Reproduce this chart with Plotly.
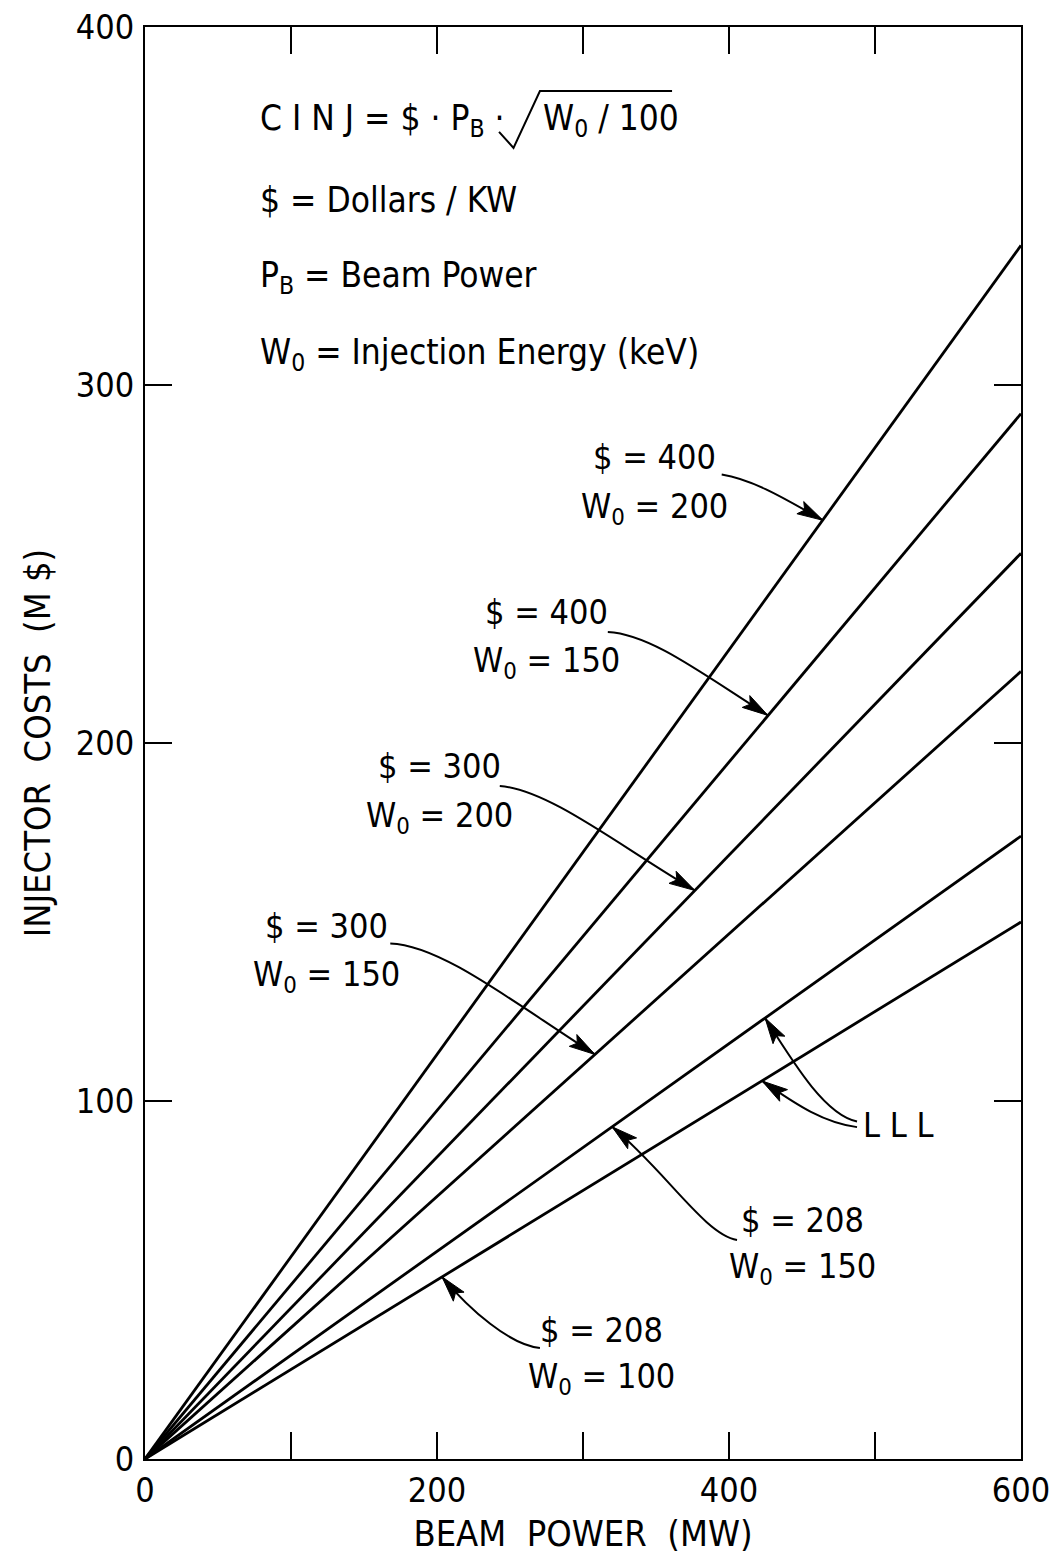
import plotly.graph_objects as go

# ---- data ----
beam_power = [0, 600]                      # MW
series_names = ["$=400, W0=200", "$=400, W0=150", "$=300, W0=200",
                "$=300, W0=150", "$=208, W0=150 (LLL)", "$=208, W0=100 (LLL)"]
cost_at_600 = [339, 292, 253, 220, 174, 150]   # M$ at 600 MW (lines start at 0)

x_ticks = [0, 100, 200, 300, 400, 500, 600]
x_tick_text = ["0", "", "200", "", "400", "", "600"]
y_ticks = [0, 100, 200, 300, 400]
y_tick_text = ["0", "100", "200", "300", "400"]

FONT = "DejaVu Sans Condensed, Liberation Sans Narrow, DejaVu Sans, sans-serif"

fig = go.Figure()
for name, end in zip(series_names, cost_at_600):
    fig.add_trace(go.Scatter(x=beam_power, y=[0, end], mode="lines", name=name,
                             line=dict(color="black", width=2.8), showlegend=False))

# ---- labels with curved arrows (data coordinates) ----
labels = [
    # (line1, line2, center x, y1, y2, tail, c1, c2, head)
    ("$ = 400", "W<sub>0</sub> = 200", 349, 280, 266.5, (395, 275), (418, 273.5), (442, 267.3), (464.4, 262.2)),
    ("$ = 400", "W<sub>0</sub> = 150", 275, 236.6, 223.5, (317, 231), (346, 230.4), (380, 219.8), (426.7, 207.7)),
    ("$ = 300", "W<sub>0</sub> = 200", 202, 193.6, 180.4, (243, 188), (277, 186.9), (325, 171.2), (376.7, 158.8)),
    ("$ = 300", "W<sub>0</sub> = 150", 124, 148.9, 136.0, (168, 144), (202, 143.6), (250, 128.2), (308.2, 113.0)),
    ("$ = 208", "W<sub>0</sub> = 150", 450, 66.8, 54.2, (405.5, 61.2), (383.6, 62.6), (356, 80.7), (319.9, 92.8)),
    ("$ = 208", "W<sub>0</sub> = 100", 313, 36.0, 23.7, (270.5, 31), (250, 31.8), (222.6, 41.6), (203.4, 50.9)),
]
lll_arrows = [
    ((487.7, 92.7), (462, 94.1), (442, 100.3), (422.6, 105.6)),
    ((487.7, 94.3), (466, 96.1), (445, 110.1), (424.7, 123.2)),
]

XS, YS = 876 / 600, 1432 / 400   # px per data unit (for arrowhead geometry)

def add_curve(tail, c1, c2, head):
    path = "M {} {} C {} {}, {} {}, {} {}".format(*tail, *c1, *c2, *head)
    fig.add_shape(type="path", path=path, xref="x", yref="y",
                  line=dict(color="black", width=2))
    dxp = (head[0] - c2[0]) * XS
    dyp = (head[1] - c2[1]) * YS
    n = (dxp ** 2 + dyp ** 2) ** 0.5
    ux, uy = dxp / n, dyp / n
    px_, py_ = -uy, ux
    L, W, N = 26, 7, 21
    def pt(a, b):
        return (head[0] + a / XS, head[1] + b / YS)
    tip = pt(0, 0)
    left = pt(-L * ux + W * px_, -L * uy + W * py_)
    notch = pt(-N * ux, -N * uy)
    right = pt(-L * ux - W * px_, -L * uy - W * py_)
    tri = "M {} {} L {} {} L {} {} L {} {} Z".format(*tip, *left, *notch, *right)
    fig.add_shape(type="path", path=tri, xref="x", yref="y",
                  line=dict(color="black", width=1), fillcolor="black")

for l1, l2, cx, y1, y2, tail, c1, c2, head in labels:
    fig.add_annotation(x=cx, y=y1, text=l1, showarrow=False, xref="x", yref="y",
                       font=dict(family=FONT, size=34, color="black"))
    fig.add_annotation(x=cx, y=y2, text=l2, showarrow=False, xref="x", yref="y",
                       font=dict(family=FONT, size=34, color="black"), yshift=-4)
    add_curve(tail, c1, c2, head)

fig.add_annotation(x=516, y=93.3, text="L L L", showarrow=False, xref="x", yref="y",
                   font=dict(family=FONT, size=34, color="black"))
for tail, c1, c2, head in lll_arrows:
    add_curve(tail, c1, c2, head)

# ---- formula block ----
formula = [
    ("C I N J = $ · P<sub>B</sub> ·", 374.0),
    ("$ = Dollars / KW", 351.7),
    ("P<sub>B</sub> = Beam Power", 329.9),
    ("W<sub>0</sub> = Injection Energy (keV)", 308.4),
]
for txt, yy in formula:
    fig.add_annotation(x=77.4, y=yy, text=txt, showarrow=False, xref="x", yref="y",
                       xanchor="left", yanchor="middle",
                       font=dict(family=FONT, size=35, color="black"))
fig.add_annotation(x=271.5, y=374.0, text="W<sub>0</sub> / 100", showarrow=False,
                   xref="x", yref="y", xanchor="left", yanchor="middle",
                   font=dict(family=FONT, size=35, color="black"))
fig.add_shape(type="path", xref="x", yref="y",
              path="M 242.5 370.7 L 252.4 366.2 L 270.5 382.1 L 361 382.1",
              line=dict(color="black", width=2))

axis_common = dict(showgrid=False, zeroline=False, showline=True, linecolor="black",
                   linewidth=2, mirror="ticks", ticks="inside", tickcolor="black",
                   tickwidth=2, ticklen=27,
                   tickfont=dict(family=FONT, size=34, color="black"))

fig.update_xaxes(range=[0, 600], tickmode="array", tickvals=x_ticks, ticktext=x_tick_text,
                 ticklabelstandoff=0,
                 title=dict(text="BEAM  POWER  (MW)", standoff=12,
                            font=dict(family=FONT, size=36, color="black")),
                 **axis_common)
fig.update_yaxes(range=[0, 400], tickmode="array", tickvals=y_ticks, ticktext=y_tick_text,
                 ticklabelstandoff=2,
                 title=dict(text="INJECTOR  COSTS  (M $)", standoff=14,
                            font=dict(family=FONT, size=36, color="black")),
                 **axis_common)

fig.update_layout(width=1062, height=1563, autosize=False,
                  margin=dict(l=145, r=41, t=27, b=104, autoexpand=False),
                  paper_bgcolor="white", plot_bgcolor="white", showlegend=False)

fig.write_html("out.html")
